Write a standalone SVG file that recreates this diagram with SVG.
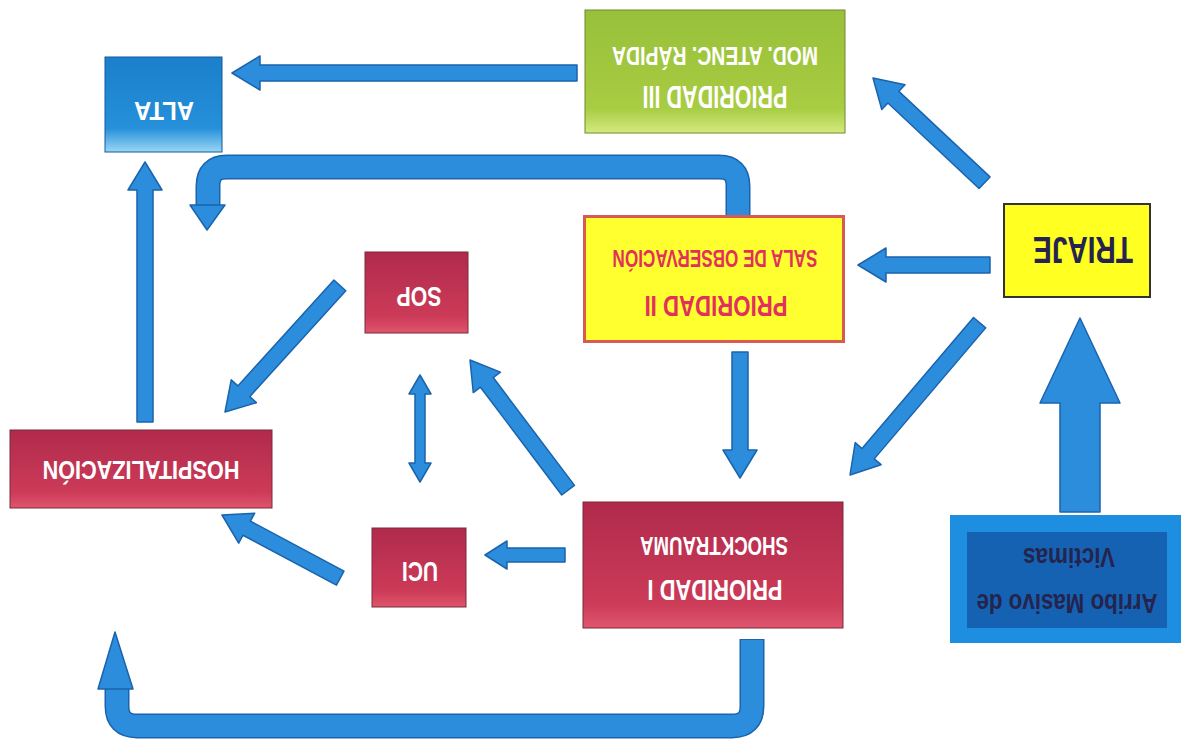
<svg xmlns="http://www.w3.org/2000/svg" width="1181" height="754" viewBox="0 0 1181 754">
<defs>
<linearGradient id="gRed" x1="0" y1="0" x2="0" y2="1"><stop offset="0" stop-color="#b02a4c"/><stop offset="0.8" stop-color="#cc3b58"/><stop offset="1" stop-color="#e0556d"/></linearGradient>
<linearGradient id="gGreen" x1="0" y1="0" x2="0" y2="1"><stop offset="0" stop-color="#98c03a"/><stop offset="0.8" stop-color="#a8cc42"/><stop offset="1" stop-color="#d4ea80"/></linearGradient>
<linearGradient id="gBlue" x1="0" y1="0" x2="0" y2="1"><stop offset="0" stop-color="#1a7fcc"/><stop offset="0.75" stop-color="#2690da"/><stop offset="1" stop-color="#9ad6f4"/></linearGradient>
</defs>
<style>
.arr{fill:#2b8ddb;stroke:#1b63ad;stroke-width:1.5;stroke-linejoin:round}
.pipeO{fill:none;stroke:#1b63ad;stroke-width:25;stroke-linecap:butt;stroke-linejoin:round}
.pipeI{fill:none;stroke:#2b8ddb;stroke-width:22;stroke-linecap:butt;stroke-linejoin:round}
.box{stroke:#7a2a3a;stroke-width:1}
.t{font-family:"Liberation Sans",Arial,sans-serif;font-weight:bold;text-anchor:middle}
.w{fill:#ffffff}
.r{fill:#e2305c}
.d{fill:#24244e}
</style>

<g id="connectors">
<polygon class="arr" transform="translate(232,73) rotate(180)" points="0,0 -28,-17 -28,-8 -345,-8 -345,8 -28,8 -28,17"/>
<polygon class="arr" transform="translate(873,78) rotate(223.2)" points="0,0 -28,-17 -28,-8 -153,-8 -153,8 -28,8 -28,17"/>
<polygon class="arr" transform="translate(858,265) rotate(180)" points="0,0 -28,-17 -28,-8 -132,-8 -132,8 -28,8 -28,17"/>
<polygon class="arr" transform="translate(850,475) rotate(130.4)" points="0,0 -28,-17 -28,-8 -200,-8 -200,8 -28,8 -28,17"/>
<polygon class="arr" transform="translate(1080,318) rotate(-90)" points="0,0 -85,-40 -85,-20 -194,-20 -194,20 -85,20 -85,40"/>
<polygon class="arr" transform="translate(740,478) rotate(90)" points="0,0 -28,-17 -28,-8 -126,-8 -126,8 -28,8 -28,17"/>
<polygon class="arr" transform="translate(145,162) rotate(-90)" points="0,0 -28,-17 -28,-8 -260,-8 -260,8 -28,8 -28,17"/>
<polygon class="arr" transform="translate(225,412) rotate(132.2)" points="0,0 -28,-17 -28,-8 -171,-8 -171,8 -28,8 -28,17"/>
<polygon class="arr" transform="translate(470,360) rotate(233)" points="0,0 -28,-17 -28,-8 -163,-8 -163,8 -28,8 -28,17"/>
<polygon class="arr" points="420,375 431,394 425,394 425,463 431,463 420,482 409,463 415,463 415,394 409,394"/>
<polygon class="arr" transform="translate(485,555) rotate(180)" points="0,0 -22,-14 -22,-7 -80,-7 -80,7 -22,7 -22,14"/>
<polygon class="arr" transform="translate(222,515) rotate(208.1)" points="0,0 -28,-17 -28,-8 -134,-8 -134,8 -28,8 -28,17"/>
<path class="pipeO" d="M738,236 V186 Q738,167 719,167 H227 Q208,167 208,186 V206"/>
<path class="pipeI" d="M738,235 V186 Q738,167 719,167 H227 Q208,167 208,186 V207"/>
<polygon class="arr" points="207,230 190,205 225,205"/>
<path class="pipeO" d="M752,639 V706 Q752,726 732,726 H137 Q117,726 117,706 V687"/>
<path class="pipeI" d="M752,640 V706 Q752,726 732,726 H137 Q117,726 117,706 V686"/>
<polygon class="arr" points="115,632 98,689 133,689"/>
</g>

<g id="prioridad3">
<rect x="585" y="10" width="260" height="123" fill="url(#gGreen)" stroke="#6e8a2a" stroke-width="1"/>
<text class="t w" x="715" y="86" font-size="31" textLength="145" lengthAdjust="spacingAndGlyphs" transform="rotate(180 715 86)">PRIORIDAD III</text>
<text class="t w" x="715" y="47" font-size="25" textLength="206" lengthAdjust="spacingAndGlyphs" transform="rotate(180 715 47)">MOD. ATENC. RÁPIDA</text>
</g>

<g id="alta">
<rect x="105" y="57" width="117" height="95" fill="url(#gBlue)" stroke="#125a9a" stroke-width="1"/>
<text class="t w" x="164" y="102" font-size="26" textLength="60" lengthAdjust="spacingAndGlyphs" transform="rotate(180 164 102)">ALTA</text>
</g>

<g id="prioridad2">
<rect x="584.5" y="216.5" width="259" height="125" fill="#ffff30" stroke="#d85a50" stroke-width="3"/>
<text class="t r" x="716" y="296" font-size="30" textLength="143" lengthAdjust="spacingAndGlyphs" transform="rotate(180 716 296)">PRIORIDAD II</text>
<text class="t r" x="715" y="250" font-size="24" textLength="205" lengthAdjust="spacingAndGlyphs" transform="rotate(180 715 250)">SALA DE OBSERVACIÓN</text>
</g>

<g id="triaje">
<rect x="1004" y="204" width="146" height="93" fill="#ffff22" stroke="#333333" stroke-width="2"/>
<text class="t d" x="1083" y="237" font-size="36" textLength="100" lengthAdjust="spacingAndGlyphs" transform="rotate(180 1083 237)">TRIAJE</text>
</g>

<g id="sop">
<rect x="365" y="252" width="103" height="81" class="box" fill="url(#gRed)"/>
<text class="t w" x="419" y="287" font-size="27" textLength="45" lengthAdjust="spacingAndGlyphs" transform="rotate(180 419 287)">SOP</text>
</g>

<g id="hospitalizacion">
<rect x="10" y="430" width="262" height="78" class="box" fill="url(#gRed)"/>
<text class="t w" x="141" y="461" font-size="25" textLength="197" lengthAdjust="spacingAndGlyphs" transform="rotate(180 141 461)">HOSPITALIZACIÓN</text>
</g>

<g id="uci">
<rect x="372" y="528" width="94" height="79" class="box" fill="url(#gRed)"/>
<text class="t w" x="420" y="562" font-size="28" textLength="36" lengthAdjust="spacingAndGlyphs" transform="rotate(180 420 562)">UCI</text>
</g>

<g id="prioridad1">
<rect x="583" y="502" width="260" height="126" class="box" fill="url(#gRed)"/>
<text class="t w" x="715" y="580" font-size="29" textLength="135" lengthAdjust="spacingAndGlyphs" transform="rotate(180 715 580)">PRIORIDAD I</text>
<text class="t w" x="714" y="537" font-size="26" textLength="148" lengthAdjust="spacingAndGlyphs" transform="rotate(180 714 537)">SHOCKTRAUMA</text>
</g>

<g id="arribo">
<rect x="950" y="515" width="231" height="128" fill="#1e8fe0"/>
<rect x="967" y="532" width="200" height="96" fill="#1662b2"/>
<text class="t d" x="1067" y="594" font-size="27" textLength="181" lengthAdjust="spacingAndGlyphs" transform="rotate(180 1067 594)">Arribo Masivo de</text>
<text class="t d" x="1069" y="548" font-size="27" textLength="92" lengthAdjust="spacingAndGlyphs" transform="rotate(180 1069 548)">Victimas</text>
</g>
</svg>
